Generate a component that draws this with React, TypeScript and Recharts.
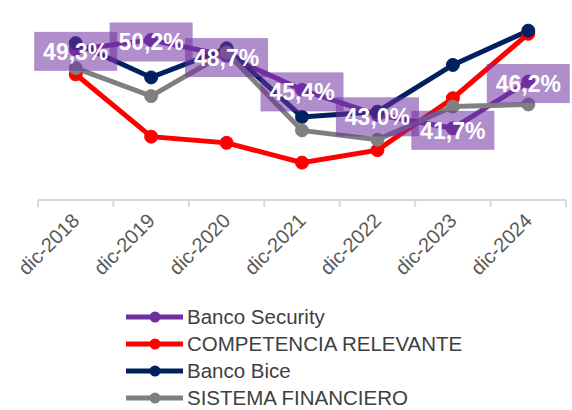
import React from 'react';
import { LineChart, Line, XAxis, YAxis, Legend, LabelList } from 'recharts';

const categories = ['dic-2018', 'dic-2019', 'dic-2020', 'dic-2021', 'dic-2022', 'dic-2023', 'dic-2024'];
const securityValues = [49.3, 50.2, 48.7, 45.4, 43.0, 41.7, 46.2];
const competenciaValues = [46.9, 40.9, 40.3, 38.4, 39.6, 44.6, 50.8];
const biceValues = [49.9, 46.6, 49.4, 42.8, 43.3, 47.8, 51.1];
const sistemaValues = [47.5, 44.8, 49.0, 41.5, 40.6, 43.8, 44.0];
const boundaryTicks = [-0.5, 0.5, 1.5, 2.5, 3.5, 4.5, 5.5, 6.5];

const data = categories.map((c, i) => ({
  x: i,
  label: c,
  security: securityValues[i],
  competencia: competenciaValues[i],
  bice: biceValues[i],
  sistema: sistemaValues[i],
}));

const series = [
  { key: 'security', name: 'Banco Security', color: '#7030a0' },
  { key: 'competencia', name: 'COMPETENCIA RELEVANTE', color: '#ff0000' },
  { key: 'bice', name: 'Banco Bice', color: '#002060' },
  { key: 'sistema', name: 'SISTEMA FINANCIERO', color: '#808080' },
];

const FONT = '"Liberation Sans", Arial, sans-serif';

const fmt = (v: number) => v.toFixed(1).replace('.', ',') + '%';

const AxisTick = (props: any) => {
  const { x, y, index, width } = props;
  const band = (typeof width === 'number' && width > 0 ? width : 528) / 7;
  const cat = categories[index];
  const tx = x + band / 2 + 5;
  const ty = y + 22;
  return (
    <g>
      <line x1={x} y1={y} x2={x} y2={y + 7} stroke="#d9d9d9" strokeWidth={2} />
      {cat !== undefined && (
        <text
          x={tx}
          y={ty}
          textAnchor="end"
          transform={`rotate(-45, ${tx}, ${ty})`}
          fontFamily={FONT}
          fontSize={20}
          fill="#595959"
        >
          {cat}
        </text>
      )}
    </g>
  );
};

const DataLabel = (props: any) => {
  const { x, y, value } = props;
  if (x == null || y == null) return null;
  const w = 83;
  const h = 39;
  const cy = y + 2;
  return (
    <g>
      <rect x={x - w / 2} y={cy - h / 2} width={w} height={h} fill="#7030a0" fillOpacity={0.55} />
      <text
        x={x}
        y={cy}
        dy="0.36em"
        textAnchor="middle"
        fontFamily={FONT}
        fontSize={23}
        fontWeight="bold"
        fill="#ffffff"
      >
        {fmt(value)}
      </text>
    </g>
  );
};

const LegendContent = () => (
  <div style={{ paddingLeft: 126, paddingTop: 3, fontFamily: FONT, fontSize: 20.5, color: '#404040' }}>
    {series.map((s) => (
      <div key={s.key} style={{ display: 'flex', alignItems: 'center', height: 27 }}>
        <svg width={61} height={14} style={{ display: 'block' }}>
          <line x1={0} y1={7} x2={57} y2={7} stroke={s.color} strokeWidth={5} />
          <circle cx={29} cy={7} r={5.5} fill={s.color} />
        </svg>
        <span style={{ lineHeight: '27px', whiteSpace: 'nowrap' }}>{s.name}</span>
      </div>
    ))}
  </div>
);

export default function App() {
  return (
    <div style={{ position: 'absolute', left: 0, top: 0, width: 572, height: 410, background: '#fff' }}>
      <LineChart width={572} height={410} data={data} margin={{ top: 13, right: 6, left: 38, bottom: 0 }}>
        <XAxis
          dataKey="x"
          type="number"
          domain={[-0.5, 6.5]}
          ticks={boundaryTicks}
          interval={0}
          tickLine={false}
          tickSize={0}
          tickMargin={0}
          axisLine={{ stroke: '#d9d9d9', strokeWidth: 2 }}
          tick={<AxisTick />}
          height={100}
        />
        <YAxis hide domain={[34.8, 52.8]} type="number" />
        {series.map((s) => (
          <Line
            key={s.key}
            dataKey={s.key}
            name={s.name}
            stroke={s.color}
            strokeWidth={5}
            dot={{ r: 6.5, fill: s.color, stroke: s.color, strokeWidth: 1 }}
            activeDot={false}
            isAnimationActive={false}
          />
        ))}
        <Line
          dataKey="security"
          name="labels"
          stroke="none"
          dot={false}
          activeDot={false}
          legendType="none"
          isAnimationActive={false}
        >
          <LabelList dataKey="security" content={<DataLabel />} />
        </Line>
        <Legend
          verticalAlign="bottom"
          content={<LegendContent />}
          wrapperStyle={{ left: 0, width: 572, height: 110, bottom: 0 }}
        />
      </LineChart>
    </div>
  );
}
